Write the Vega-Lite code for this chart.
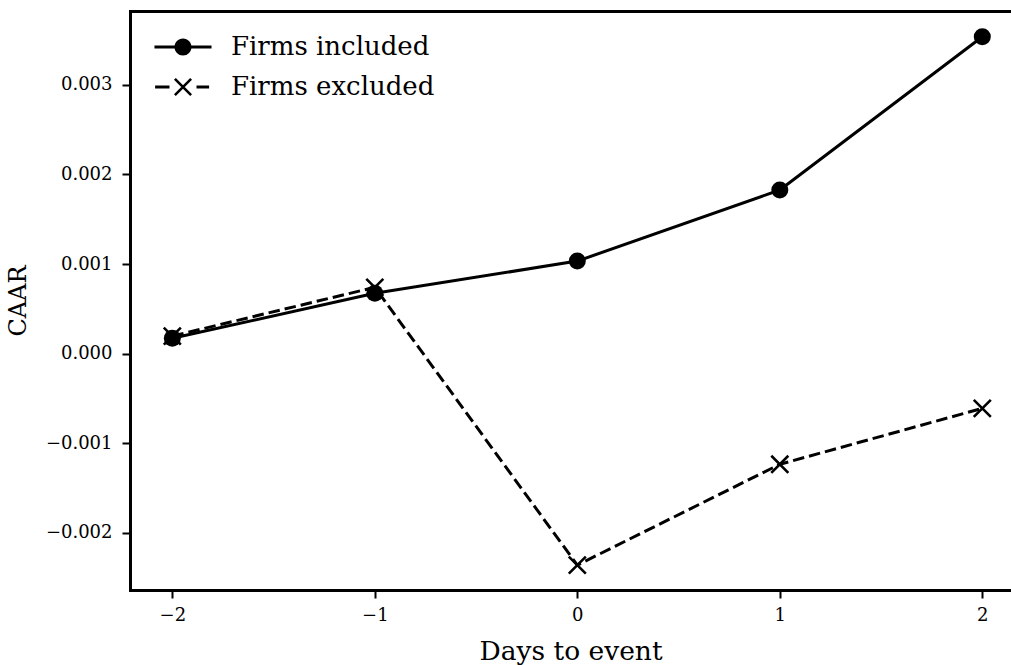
{
  "$schema": "https://vega.github.io/schema/vega-lite/v6.json",
  "width": 881,
  "height": 579,
  "autosize": "none",
  "padding": {"left": 130, "top": 11, "right": 0, "bottom": 75},
  "background": "white",
  "config": {
    "view": {"stroke": null},
    "font": "DejaVu Serif",
    "axis": {
      "domainColor": "black",
      "domainWidth": 3,
      "domainCap": "square",
      "tickColor": "black",
      "tickWidth": 2,
      "tickSize": 8,
      "labelColor": "black",
      "labelFont": "DejaVu Serif",
      "labelFontSize": 18,
      "titleFont": "DejaVu Serif",
      "titleFontSize": 26.5,
      "titleFontWeight": "normal",
      "titleColor": "black",
      "grid": false
    },
    "legend": {
      "labelFont": "DejaVu Serif",
      "labelFontSize": 26,
      "labelColor": "black",
      "labelLimit": 500
    }
  },
  "data": {
    "values": [
      {"day": -2, "caar": 0.000171, "series": "Firms included"},
      {"day": -1, "caar": 0.000673, "series": "Firms included"},
      {"day": 0, "caar": 0.001033, "series": "Firms included"},
      {"day": 1, "caar": 0.001826, "series": "Firms included"},
      {"day": 2, "caar": 0.003537, "series": "Firms included"},
      {"day": -2, "caar": 0.000196, "series": "Firms excluded"},
      {"day": -1, "caar": 0.00074, "series": "Firms excluded"},
      {"day": 0, "caar": -0.00236, "series": "Firms excluded"},
      {"day": 1, "caar": -0.001235, "series": "Firms excluded"},
      {"day": 2, "caar": -0.000611, "series": "Firms excluded"}
    ]
  },
  "resolve": {"axis": {"x": "independent"}},
  "layer": [
    {
      "transform": [{"filter": "datum.series === 'Firms included'"}],
      "mark": {"type": "line", "color": "black", "strokeWidth": 3, "strokeJoin": "round"},
      "encoding": {
        "x": {
          "field": "day", "type": "quantitative",
          "scale": {"domain": [-2.209, 2.1417], "nice": false, "zero": false},
          "axis": {"orient": "bottom", "values": [-2, -1, 0, 1, 2], "format": "d", "title": "Days to event", "labelPadding": 8, "titlePadding": 14}
        },
        "y": {
          "field": "caar", "type": "quantitative",
          "scale": {"domain": [-0.002638, 0.003824], "nice": false, "zero": false},
          "axis": {"values": [-0.002, -0.001, 0, 0.001, 0.002, 0.003], "format": ".3f", "title": "CAAR", "titleFontSize": 24, "labelPadding": 10, "titlePadding": 15}
        }
      }
    },
    {
      "transform": [{"filter": "datum.series === 'Firms excluded'"}],
      "mark": {"type": "line", "color": "black", "strokeWidth": 3, "strokeJoin": "round", "strokeDash": [11.5, 5]},
      "encoding": {
        "x": {"field": "day", "type": "quantitative", "axis": null},
        "y": {"field": "caar", "type": "quantitative"}
      }
    },
    {
      "transform": [{"filter": "datum.series === 'Firms included'"}],
      "mark": {"type": "point", "shape": "circle", "filled": true, "color": "black", "size": 290, "opacity": 1},
      "encoding": {
        "x": {"field": "day", "type": "quantitative", "axis": null},
        "y": {"field": "caar", "type": "quantitative"}
      }
    },
    {
      "transform": [{"filter": "datum.series === 'Firms excluded'"}],
      "mark": {"type": "point", "shape": "M-1,-1L1,1M-1,1L1,-1", "filled": false, "color": "black", "strokeWidth": 2.6, "size": 290, "opacity": 1},
      "encoding": {
        "x": {"field": "day", "type": "quantitative", "axis": null},
        "y": {"field": "caar", "type": "quantitative"}
      }
    },
    {
      "mark": {"type": "point", "filled": true, "fill": "black", "opacity": 0},
      "encoding": {
        "x": {"field": "day", "type": "quantitative", "axis": {"orient": "top", "labels": false, "ticks": false, "title": null, "domain": true}},
        "y": {"field": "caar", "type": "quantitative"},
        "shape": {
          "field": "series", "type": "nominal",
          "scale": {
            "domain": ["Firms included", "Firms excluded"],
            "range": [
              "M-3.17,-0.16H-0.8V0.16H-3.17Z M0.8,-0.16H3.17V0.16H0.8Z M-0.95,0A0.95,0.95 0 1,1 0.95,0A0.95,0.95 0 1,1 -0.95,0Z",
              "M-3.1,-0.16H-1.5V0.16H-3.1Z M1.5,-0.16H2.9V0.16H1.5Z M-0.798,-1.002L1.002,0.798L0.798,1.002L-1.002,-0.798Z M-0.798,1.002L-1.002,0.798L0.798,-1.002L1.002,-0.798Z"
            ]
          },
          "legend": {
            "title": null,
            "orient": "none",
            "legendX": 40,
            "legendY": 23,
            "padding": 0,
            "labelOffset": 35,
            "rowPadding": 14,
            "symbolSize": 324,
            "symbolFillColor": "black",
            "symbolStrokeWidth": 0,
            "symbolOpacity": 1
          }
        }
      }
    }
  ]
}
